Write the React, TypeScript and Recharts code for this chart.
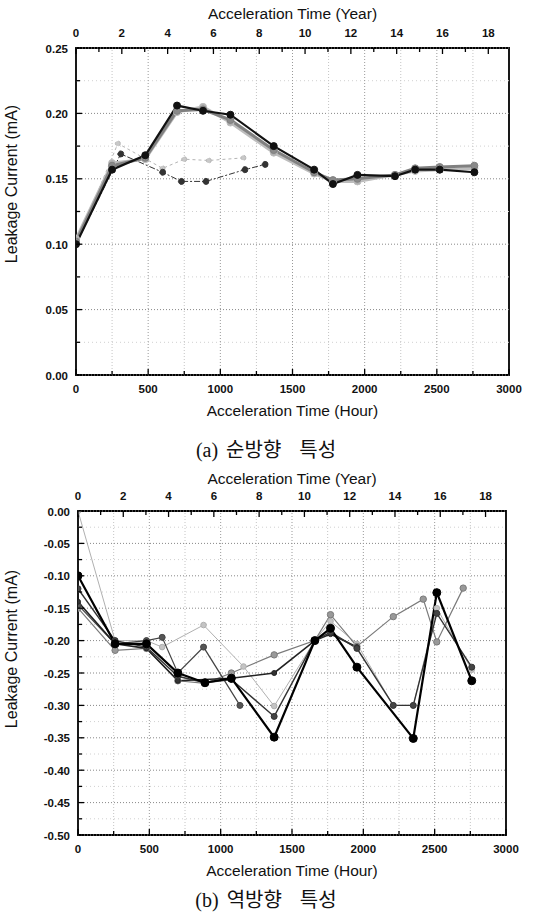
import React from 'react';
import { LineChart, Line, XAxis, YAxis, ReferenceLine, ReferenceArea, Label } from 'recharts';

const HOURS_PER_YEAR = 158.7;

const hourTicks = [0, 250, 500, 750, 1000, 1250, 1500, 1750, 2000, 2250, 2500, 2750, 3000];
const yearTicks = [0, 1, 2, 3, 4, 5, 6, 7, 8, 9, 10, 11, 12, 13, 14, 15, 16, 17, 18];
const aYTicks = [0, 0.025, 0.05, 0.075, 0.1, 0.125, 0.15, 0.175, 0.2, 0.225, 0.25];
const bYTicks = [-0.5, -0.475, -0.45, -0.425, -0.4, -0.375, -0.35, -0.325, -0.3, -0.275, -0.25, -0.225, -0.2, -0.175, -0.15, -0.125, -0.1, -0.075, -0.05, -0.025, 0];

// (a) forward direction
const aMainHours = [0, 250, 480, 700, 880, 1070, 1370, 1650, 1780, 1950, 2210, 2350, 2520, 2760];
const aBlack = [0.1, 0.157, 0.168, 0.206, 0.202, 0.199, 0.175, 0.157, 0.146, 0.153, 0.152, 0.157, 0.157, 0.155];
const aGray = [0.102, 0.16, 0.166, 0.202, 0.203, 0.195, 0.172, 0.155, 0.149, 0.15, 0.153, 0.158, 0.159, 0.16];
const aLight = [0.104, 0.162, 0.165, 0.201, 0.205, 0.193, 0.17, 0.154, 0.148, 0.148, 0.153, 0.156, 0.157, 0.158];
const aDarkShortHours = [0, 310, 600, 730, 900, 1170, 1310];
const aDarkShort = [0.1, 0.169, 0.155, 0.148, 0.148, 0.157, 0.161];
const aLightShortHours = [0, 290, 600, 750, 920, 1160];
const aLightShort = [0.1, 0.177, 0.158, 0.165, 0.164, 0.166];

// (b) reverse direction
const bB1Hours = [0, 260, 480, 700, 890, 1075, 1375, 1660, 1770, 1955, 2350, 2515, 2760];
const bB1 = [-0.1, -0.205, -0.205, -0.25, -0.265, -0.258, -0.349, -0.2, -0.181, -0.241, -0.351, -0.126, -0.262];
const bB2Hours = [0, 260, 480, 700, 890, 1075, 1375, 1660, 1770, 1955, 2210, 2350, 2515, 2760];
const bB2 = [-0.12, -0.2, -0.21, -0.255, -0.265, -0.26, -0.317, -0.2, -0.187, -0.212, -0.3, -0.3, -0.158, -0.241];
const bB3Hours = [0, 260, 480, 700, 890, 1075, 1375, 1660, 1770, 1955, 2210, 2420, 2515, 2700];
const bB3 = [-0.15, -0.215, -0.212, -0.262, -0.266, -0.25, -0.222, -0.2, -0.16, -0.209, -0.163, -0.136, -0.202, -0.119];
const bB4Hours = [0, 260, 480, 590, 880, 1160, 1375, 1660, 1770, 1955, 2210, 2350, 2515, 2760];
const bB4 = [0, -0.2, -0.2, -0.21, -0.176, -0.24, -0.301, -0.2, -0.17, -0.205, -0.3, -0.3, -0.15, -0.245];
const bB5Hours = [0, 260, 480, 590, 700, 880, 1135];
const bB5 = [-0.145, -0.205, -0.2, -0.195, -0.25, -0.21, -0.3];
const bB6Hours = [0, 260, 480, 700, 1075, 1375, 1660, 1770, 1955];
const bB6 = [-0.14, -0.205, -0.212, -0.262, -0.258, -0.25, -0.2, -0.19, -0.21];

// the top series of each panel is plotted against the year axis (same span as the hour axis)
const rows = (hours: number[], values: number[], inYears = false) =>
  hours.map((h, i) => ({ h: inYears ? h / HOURS_PER_YEAR : h, v: values[i] }));

type Series = {
  data: { h: number; v: number }[];
  stroke: string;
  width: number;
  dash?: string;
  r: number;
  fill: string;
  year?: boolean;
};

const seriesA: Series[] = [
  { data: rows(aLightShortHours, aLightShort), stroke: '#b5b5b5', width: 1, dash: '3 3', r: 2.5, fill: '#c8c8c8' },
  { data: rows(aDarkShortHours, aDarkShort), stroke: '#333', width: 1, dash: '6 2 2 2', r: 3, fill: '#333' },
  { data: rows(aMainHours, aLight), stroke: '#bdbdbd', width: 3, r: 3.5, fill: '#b0b0b0' },
  { data: rows(aMainHours, aGray), stroke: '#808080', width: 3, r: 3.5, fill: '#8a8a8a' },
  { data: rows(aMainHours, aBlack, true), stroke: '#111', width: 2.2, r: 3.5, fill: '#111', year: true },
];

const seriesB: Series[] = [
  { data: rows(bB4Hours, bB4), stroke: '#b0b0b0', width: 1, r: 2.8, fill: '#c4c4c4' },
  { data: rows(bB3Hours, bB3), stroke: '#7a7a7a', width: 1.2, r: 3.2, fill: '#999' },
  { data: rows(bB5Hours, bB5), stroke: '#444', width: 1.2, r: 3, fill: '#555' },
  { data: rows(bB6Hours, bB6), stroke: '#222', width: 1.6, r: 2.5, fill: '#333' },
  { data: rows(bB2Hours, bB2), stroke: '#333', width: 1.4, r: 3, fill: '#444' },
  { data: rows(bB1Hours, bB1, true), stroke: '#000', width: 2.2, r: 4, fill: '#000', year: true },
];

const FONT = 'Arial, "Liberation Sans", sans-serif';
const TICK = { fontFamily: FONT, fontSize: 11.5, fontWeight: 700, fill: '#111' };
const TITLE = { fontFamily: FONT, fontSize: 15.5, fill: '#111' };

const isMajorY = (v: number) => Math.round(Math.abs(v) * 1000) % 50 === 0;

function LeftTick(p: any) {
  const v = p.payload.value;
  const major = isMajorY(v);
  const ax = p.x + 8;
  return (
    <g>
      <line x1={ax} x2={ax + (major ? 6 : 4)} y1={p.y} y2={p.y} stroke="#000" strokeWidth={1.3} />
      {major && (
        <text x={p.x} y={p.y} dy={4.5} textAnchor="end" {...TICK}>
          {v.toFixed(2)}
        </text>
      )}
    </g>
  );
}

function BottomTick(p: any) {
  const v = p.payload.value;
  const major = v % 500 === 0;
  const ay = p.y - 8;
  return (
    <g>
      <line x1={p.x} x2={p.x} y1={ay} y2={ay - (major ? 6 : 4)} stroke="#000" strokeWidth={1.3} />
      {major && (
        <text x={p.x} y={p.y} dy={10} textAnchor="middle" {...TICK}>
          {v}
        </text>
      )}
    </g>
  );
}

function TopTick(p: any) {
  const v = p.payload.value;
  const major = v % 2 === 0;
  const ay = p.y + 11;
  return (
    <g>
      <line x1={p.x} x2={p.x} y1={ay} y2={ay + (major ? 6 : 4)} stroke="#000" strokeWidth={1.3} />
      {major && (
        <text x={p.x} y={p.y} textAnchor="middle" {...TICK}>
          {v}
        </text>
      )}
    </g>
  );
}

type PanelProps = {
  series: Series[];
  yDomain: [number, number];
  yTicks: number[];
  width: number;
  height: number;
  yWidth: number;
  rightMargin: number;
  topH: number;
  bottomH: number;
  topTitleY: number;
  bottomTitleDy: number;
  yLabelY: number;
};

function Panel(props: PanelProps) {
  const { series, yDomain, yTicks } = props;
  const majorY = yTicks.filter(isMajorY);
  const minorY = yTicks.filter((t) => !isMajorY(t));
  return (
    <LineChart
      width={props.width}
      height={props.height}
      margin={{ top: 0, right: props.rightMargin, bottom: 0, left: 0 }}
    >
      <XAxis
        dataKey="h"
        type="number"
        domain={[0, 3000]}
        ticks={hourTicks}
        interval={0}
        allowDataOverflow
        axisLine={false}
        tickLine={false}
        tickSize={0}
        tickMargin={8}
        height={props.bottomH}
        tick={(p: any) => <BottomTick {...p} />}
      >
        <Label
          content={({ viewBox }: any) => (
            <text
              x={viewBox.x + viewBox.width / 2}
              y={viewBox.y + props.bottomTitleDy}
              textAnchor="middle"
              {...TITLE}
            >
              Acceleration Time (Hour)
            </text>
          )}
        />
      </XAxis>
      <XAxis
        xAxisId="year"
        dataKey="h"
        orientation="top"
        type="number"
        domain={[0, 3000 / HOURS_PER_YEAR]}
        ticks={yearTicks}
        interval={0}
        allowDataOverflow
        axisLine={false}
        tickLine={false}
        tickSize={0}
        tickMargin={11}
        height={props.topH}
        tick={(p: any) => <TopTick {...p} />}
      >
        <Label
          content={({ viewBox }: any) => (
            <text x={viewBox.x + viewBox.width / 2} y={props.topTitleY} textAnchor="middle" {...TITLE}>
              Acceleration Time (Year)
            </text>
          )}
        />
      </XAxis>
      <YAxis
        type="number"
        domain={yDomain}
        ticks={yTicks}
        interval={0}
        allowDataOverflow
        axisLine={false}
        tickLine={false}
        tickSize={0}
        tickMargin={8}
        width={props.yWidth}
        tick={(p: any) => <LeftTick {...p} />}
      >
        <Label
          content={() => (
            <text
              x={17}
              y={props.yLabelY}
              transform={`rotate(-90 17 ${props.yLabelY})`}
              textAnchor="middle"
              {...TITLE}
              fontSize={16}
            >
              Leakage Current (mA)
            </text>
          )}
        />
      </YAxis>

      {minorY.map((t) => (
        <ReferenceLine key={'my' + t} y={t} stroke="#d0d0d0" strokeDasharray="1 3" />
      ))}
      {majorY.map((t) => (
        <ReferenceLine key={'y' + t} y={t} stroke="#888" strokeDasharray="1 2" />
      ))}
      {hourTicks.slice(1, -1).map((t) => (
        <ReferenceLine
          key={'x' + t}
          x={t}
          stroke={t % 500 === 0 ? '#999' : '#c4c4c4'}
          strokeDasharray="1 2"
        />
      ))}

      {series.map((s, i) => (
        <Line
          key={i}
          xAxisId={s.year ? 'year' : 0}
          data={s.data}
          dataKey="v"
          type="linear"
          stroke={s.stroke}
          strokeWidth={s.width}
          strokeDasharray={s.dash}
          dot={{ r: s.r, fill: s.fill, stroke: s.stroke, strokeWidth: 1 }}
          isAnimationActive={false}
        />
      ))}

      <ReferenceArea
        x1={0}
        x2={3000}
        y1={yDomain[0]}
        y2={yDomain[1]}
        fill="none"
        fillOpacity={0}
        stroke="#000"
        strokeWidth={1.8}
      />
    </LineChart>
  );
}

function Caption({ tag, words, top }: { tag: string; words: string[]; top: number }) {
  return (
    <div
      style={{
        position: 'absolute',
        top,
        left: 0,
        width: 532,
        textAlign: 'center',
        fontSize: 20,
        lineHeight: '24px',
        color: '#111',
        whiteSpace: 'nowrap',
      }}
    >
      <span style={{ fontFamily: '"Liberation Serif", "DejaVu Serif", serif' }}>{tag}</span>
      <span style={{ fontFamily: '"Noto Sans CJK KR", sans-serif', marginLeft: 8 }}>{words[0]}</span>
      <span style={{ fontFamily: '"Noto Sans CJK KR", sans-serif', marginLeft: 18 }}>{words[1]}</span>
    </div>
  );
}

export default function App() {
  return (
    <div style={{ position: 'absolute', left: 0, top: 0, width: 535, height: 922, background: '#fff' }}>
      <div style={{ position: 'absolute', left: 0, top: 0 }}>
        <Panel
          series={seriesA}
          yDomain={[0, 0.25]}
          yTicks={aYTicks}
          width={535}
          height={430}
          yWidth={76}
          rightMargin={26}
          topH={48}
          bottomH={55}
          topTitleY={19}
          bottomTitleDy={41}
          yLabelY={184}
        />
      </div>
      <Caption tag="(a)" words={['순방향', '특성']} top={437} />
      <div style={{ position: 'absolute', left: 0, top: 462 }}>
        <Panel
          series={seriesB}
          yDomain={[-0.5, 0]}
          yTicks={bYTicks}
          width={535}
          height={430}
          yWidth={78}
          rightMargin={29}
          topH={49}
          bottomH={57}
          topTitleY={22}
          bottomTitleDy={41}
          yLabelY={187}
        />
      </div>
      <Caption tag="(b)" words={['역방향', '특성']} top={887} />
    </div>
  );
}
